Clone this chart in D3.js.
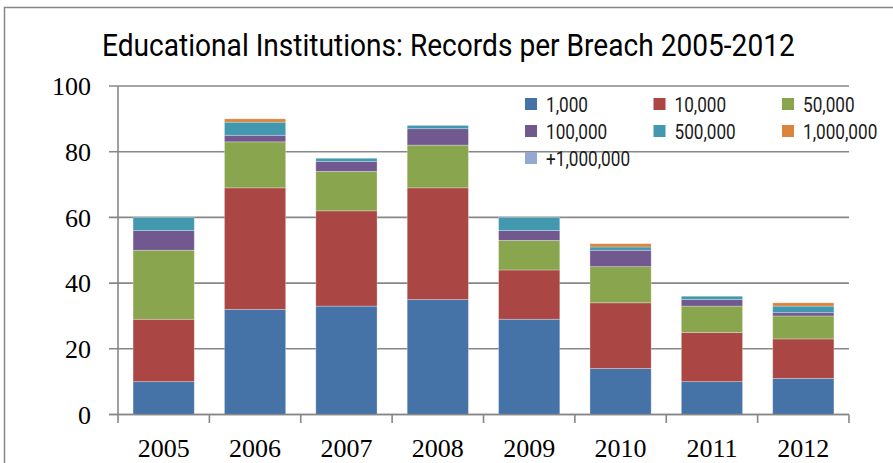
<!DOCTYPE html>
<html><head><meta charset="utf-8">
<script src="https://cdn.jsdelivr.net/npm/d3@7"></script>
<style>body{margin:0;background:#fff}svg{display:block}</style>
</head><body>
<svg id="c" width="893" height="463"></svg>
<script>
const years = ["2005","2006","2007","2008","2009","2010","2011","2012"];
const seriesNames = ["1,000","10,000","50,000","100,000","500,000","1,000,000","+1,000,000"];
const s1000    = [10,32,33,35,29,14,10,11];
const s10000   = [19,37,29,34,15,20,15,12];
const s50000   = [21,14,12,13, 9,11, 8, 7];
const s100000  = [ 6, 2, 3, 5, 3, 5, 2, 1];
const s500000  = [ 4, 4, 1, 1, 4, 1, 1, 2];
const s1000000 = [ 0, 1, 0, 0, 0, 1, 0, 1];
const sPlus    = [ 0, 0, 0, 0, 0, 0, 0, 0];
const yTicks = [0,20,40,60,80,100];
const colors = ["#4572A7","#AA4643","#89A54E","#71588F","#4198AF","#DB843D","#93A9CF"];
const title = "Educational Institutions: Records per Breach 2005-2012";

const allSeries = [s1000,s10000,s50000,s100000,s500000,s1000000,sPlus];
const table = years.map((y,i)=>{const o={year:y};seriesNames.forEach((n,k)=>o[n]=allSeries[k][i]);return o;});

const svg = d3.select("#c");
const grey = "#878787";
const sans = "Roboto, Liberation Sans, sans-serif";

// outer frame
svg.append("rect").attr("x",4.5).attr("y",7.5).attr("width",1000).attr("height",1000)
  .attr("fill","none").attr("stroke",grey).attr("stroke-width",1.5);

const L=118, R=849, T=86, B=414.5;
const x = d3.scaleBand().domain(years).range([L,R]).paddingInner(0.33).paddingOuter(0.165);
const y = d3.scaleLinear().domain([0,100]).range([B,T]);

// gridlines
svg.append("g").selectAll("line").data(yTicks).join("line")
  .attr("x1",L-9).attr("x2",R).attr("y1",d=>y(d)).attr("y2",d=>y(d))
  .attr("stroke",grey).attr("stroke-width",1.6);

// y axis line
svg.append("line").attr("x1",L).attr("x2",L).attr("y1",T).attr("y2",B)
  .attr("stroke",grey).attr("stroke-width",1.6);

// y labels
svg.append("g").selectAll("text").data(yTicks).join("text")
  .attr("x",91).attr("y",d=>y(d)).attr("dy","0.35em").attr("text-anchor","end")
  .attr("font-family","Liberation Serif, serif").attr("font-size",26).attr("fill","#000")
  .text(d=>d);

// stacked bars
const stack = d3.stack().keys(seriesNames)(table);
svg.append("g").selectAll("g").data(stack).join("g")
  .attr("fill",(d,i)=>colors[i])
  .selectAll("rect").data(d=>d).join("rect")
  .attr("x",d=>x(d.data.year)).attr("width",x.bandwidth())
  .attr("y",d=>y(d[1])).attr("height",d=>Math.max(0,y(d[0])-y(d[1])))
  .attr("stroke","rgba(255,255,255,0.35)").attr("stroke-width",0.8);

// x axis line + ticks
const step = x.step();
const bounds = d3.range(years.length+1).map(i=>L+i*step);
svg.append("line").attr("x1",L-9).attr("x2",R).attr("y1",B).attr("y2",B)
  .attr("stroke",grey).attr("stroke-width",1.6);
svg.append("g").selectAll("line").data(bounds).join("line")
  .attr("x1",d=>d).attr("x2",d=>d).attr("y1",B).attr("y2",B+8.5)
  .attr("stroke",grey).attr("stroke-width",1.6);

// x labels
svg.append("g").selectAll("text").data(years).join("text")
  .attr("x",d=>x(d)+x.bandwidth()/2).attr("y",457).attr("text-anchor","middle")
  .attr("font-family","Liberation Serif, serif").attr("font-size",26).attr("fill","#000")
  .text(d=>d);

// title (condensed horizontally to mimic a narrow font)
const tg = svg.append("g");
const tt = tg.append("text").attr("x",0).attr("y",0)
  .attr("font-family",sans).attr("font-size",31).attr("fill","#000").text(title);
const tw = tt.node().getComputedTextLength();
const tsx = 693/tw;
tg.attr("transform",`translate(${102},56) scale(${tsx},1)`);

// legend
const probe = svg.append("text").attr("font-family",sans).attr("font-size",21).text("1,000");
const lsx = 42/probe.node().getComputedTextLength();
probe.remove();
const lg = svg.append("g").selectAll("g").data(seriesNames).join("g")
  .attr("transform",(d,i)=>`translate(${525+(i%3)*128.5},${104+Math.floor(i/3)*27})`);
lg.append("rect").attr("x",0).attr("y",-6).attr("width",12).attr("height",12).attr("fill",(d,i)=>colors[i]);
lg.append("text").attr("transform",`translate(21,0) scale(${lsx},1)`).attr("dy","0.36em")
  .attr("font-family",sans).attr("font-size",21)
  .attr("fill","#1a1a1a").text(d=>d);
</script>
</body></html>
